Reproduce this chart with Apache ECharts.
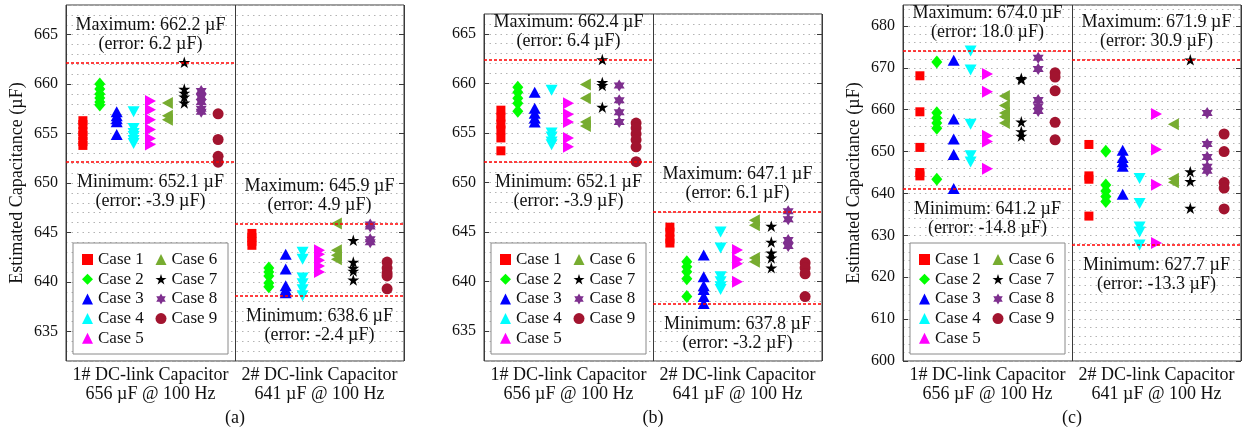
<!DOCTYPE html>
<html>
<head>
<meta charset="utf-8">
<script src="https://cdn.jsdelivr.net/npm/echarts@6/dist/echarts.min.js"></script>
<style>
html,body{margin:0;padding:0;background:#fff;}
#chart{width:1252px;height:434px;}
</style>
</head>
<body>
<div id="chart"></div>
<script>
const caseNames = ['Case 1','Case 2','Case 3','Case 4','Case 5','Case 6','Case 7','Case 8','Case 9'];
const capLabels = ['1# DC-link Capacitor','2# DC-link Capacitor'];
const nominalUF = [656, 641];
const panelLabels = ['(a)','(b)','(c)'];
const yTicksAB = [635, 640, 645, 650, 655, 660, 665];
const yTicksC = [600, 610, 620, 630, 640, 650, 660, 670, 680];
const yRangeA = [632, 668];
const yRangeB = [632, 667];
const yRangeC = [600, 685];

// Panel (a)
const aCap1 = [
  [656.3, 655.9, 655.2, 654.8, 654.2, 653.8],
  [660.0, 659.5, 659.0, 658.6, 658.2, 657.9],
  [657.2, 656.8, 656.5, 656.2, 654.9],
  [657.2, 655.5, 655.0, 654.7, 654.3, 654.0],
  [658.3, 657.4, 656.4, 655.4, 654.5, 653.9],
  [658.1, 656.8, 656.4],
  [662.2, 659.5, 659.1, 658.7, 658.1],
  [659.3, 658.7, 658.2, 657.5, 657.2],
  [657.0, 654.4, 652.7, 652.1]
];
const aCap2 = [
  [644.9, 644.5, 644.1, 643.7],
  [641.4, 641.0, 640.6, 639.9, 639.5],
  [642.8, 641.3, 639.6, 639.2, 638.9],
  [643.0, 642.3, 640.4, 639.8, 639.2, 638.6],
  [643.2, 642.8, 642.2, 641.6, 641.0],
  [645.9, 643.2, 642.7, 642.3],
  [644.2, 642.0, 641.4, 641.1, 640.2],
  [645.8, 645.6, 644.3, 644.0],
  [642.0, 641.4, 640.9, 640.6, 639.3]
];
// Panel (b)
const bCap1 = [
  [657.3, 656.6, 655.9, 655.3, 654.5, 653.2],
  [659.6, 659.1, 658.5, 658.0, 657.2],
  [659.1, 657.5, 657.0, 656.5, 656.1],
  [659.3, 655.0, 654.6, 654.1, 653.8],
  [658.0, 656.9, 656.1, 654.5, 653.6],
  [659.9, 658.5, 656.1, 655.7],
  [662.4, 660.1, 659.8, 657.6],
  [659.8, 658.3, 657.1, 656.1],
  [656.0, 655.5, 654.9, 654.3, 653.6, 652.1]
];
const bCap2 = [
  [645.5, 645.0, 644.3, 643.9],
  [642.0, 641.5, 641.0, 640.3, 638.5],
  [642.7, 640.5, 639.6, 639.2, 638.5, 637.8],
  [645.0, 643.4, 640.5, 640.0, 639.5, 639.2],
  [643.2, 642.2, 641.8, 640.0],
  [646.2, 645.7, 642.4, 642.0],
  [645.6, 644.0, 642.9, 642.4, 641.4],
  [647.1, 646.3, 644.2, 643.6],
  [641.9, 641.4, 640.8, 638.5]
];
// Panel (c)
const cCap1 = [
  [668.1, 659.5, 651.0, 645.0, 644.2],
  [671.4, 659.3, 658.0, 656.8, 655.6, 643.4],
  [671.8, 657.8, 653.0, 649.3, 641.2],
  [674.0, 669.5, 656.5, 649.0, 647.5],
  [668.5, 664.3, 653.8, 652.4, 645.9],
  [663.3, 661.0, 659.2, 658.3, 656.8],
  [667.5, 667.2, 657.1, 654.8, 653.7],
  [672.4, 669.7, 662.3, 660.8, 659.7],
  [668.8, 667.8, 664.5, 657.0, 652.8]
];
const cCap2 = [
  [651.7, 644.2, 643.4, 634.6],
  [650.1, 642.0, 640.6, 639.3, 638.1],
  [650.3, 648.6, 647.6, 646.5, 639.8],
  [643.6, 637.6, 632.0, 630.8, 627.7],
  [659.0, 650.5, 642.1, 628.2],
  [656.5, 643.5, 642.7],
  [671.9, 645.2, 642.9, 636.5],
  [659.2, 651.8, 648.7, 646.4, 645.4],
  [654.2, 650.0, 642.6, 641.3, 636.3]
];

// ---- styling / layout ----
const FONT = "'Liberation Serif','Times New Roman',serif";
const STAR = 'path://M50,0L61.23,34.55L97.55,34.55L68.17,55.9L79.39,90.45L50,69.1L20.61,90.45L31.83,55.9L2.45,34.55L38.77,34.55Z';
const HEXA = 'path://M50,0L64.43,25L93.3,25L78.87,50L93.3,75L64.43,75L50,100L35.57,75L6.7,75L21.13,50L6.7,25L35.57,25Z';
const caseStyle = [
  {symbol:'rect', size:[9,9], rot:0, color:'#ff0000'},
  {symbol:'diamond', size:[11,13], rot:0, color:'#00ff00'},
  {symbol:'triangle', size:[12,11], rot:0, color:'#0000ff'},
  {symbol:'triangle', size:[12,11], rot:180, color:'#00ffff'},
  {symbol:'triangle', size:[12,11], rot:-90, color:'#ff00ff'},
  {symbol:'triangle', size:[12,11], rot:90, color:'#77ac30'},
  {symbol:STAR, size:[12,11.5], rot:0, color:'#000000'},
  {symbol:HEXA, size:[11,12], rot:0, color:'#7e2f8e'},
  {symbol:'circle', size:[11,11], rot:0, color:'#a2142f'}
];
const panels = [
  {cap:[aCap1,aCap2], range:yRangeA, ticks:yTicksAB, step:1, left:66, top:5, width:338, bottom:361, yName:true},
  {cap:[bCap1,bCap2], range:yRangeB, ticks:yTicksAB, step:1, left:484, top:14, width:338, bottom:361, yName:false},
  {cap:[cCap1,cCap2], range:yRangeC, ticks:yTicksC, step:2, left:903, top:5, width:338, bottom:361, yName:true}
];
const FRAME = '#3a3a3a';

const grids = [], xAxes = [], yAxes = [], series = [], legends = [], graphics = [];

panels.forEach((p, i) => {
  grids.push({left:p.left, top:p.top, width:p.width, height:p.bottom - p.top,
    show:true, borderColor:FRAME, borderWidth:1, backgroundColor:'transparent'});
  xAxes.push({gridIndex:i, type:'value', min:0, max:2, interval:1,
    axisLine:{show:false}, axisTick:{show:false},
    splitLine:{show:true, lineStyle:{color:FRAME, width:1}},
    axisLabel:{customValues:[0.5,1.5], margin:5, color:'#111', fontFamily:FONT, fontSize:18, lineHeight:19,
      formatter:(v)=>{const k = v < 1 ? 0 : 1; return capLabels[k] + '\n' + nominalUF[k] + ' µF @ 100 Hz';}}
  });
  yAxes.push({gridIndex:i, type:'value', min:p.range[0], max:p.range[1], position:'left',
    axisLine:{show:false},
    axisTick:{show:true, inside:true, length:5, customValues:p.ticks, lineStyle:{color:FRAME}},
    axisLabel:{customValues:p.ticks, margin:8, color:'#111', fontFamily:FONT, fontSize:16},
    splitLine:{show:false},
    name: p.yName ? 'Estimated Capacitance (µF)' : '', nameLocation:'middle', nameGap:40, nameRotate:90,
    nameTextStyle:{fontFamily:FONT, fontSize:18, color:'#111'}
  });
  yAxes.push({gridIndex:i, type:'value', min:p.range[0], max:p.range[1], position:'right',
    axisLine:{show:false},
    axisTick:{show:true, inside:true, length:5, customValues:p.ticks, lineStyle:{color:FRAME}},
    axisLabel:{show:false}, splitLine:{show:false}
  });
  yAxes.push({gridIndex:i, type:'value', min:p.range[0], max:p.range[1], interval:p.step, position:'left',
    axisLine:{show:false}, axisTick:{show:false}, axisLabel:{show:false},
    splitLine:{show:true, lineStyle:{color:'#b4b4b4', width:1, type:[1.5,4]}}
  });
  const yi = 3 * i;
  caseNames.forEach((name, c) => {
    const st = caseStyle[c];
    const xo = 0.1 * (c + 1);
    const data = p.cap[0][c].map(v => [xo, v]).concat(p.cap[1][c].map(v => [1 + xo, v]));
    series.push({type:'scatter', name, xAxisIndex:i, yAxisIndex:yi, data,
      symbol:st.symbol, symbolSize:st.size, symbolRotate:st.rot,
      itemStyle:{color:st.color, opacity:1}, z:3, silent:true});
  });
  // limit lines
  const mlData = [];
  [0,1].forEach(k => {
    const all = [].concat(...p.cap[k]);
    const mx = Math.max(...all), mn = Math.min(...all);
    const lbl = (t, v, pos, d) => ({show:true, position:pos, distance:d,
      formatter: t + ': ' + v.toFixed(1) + ' µF\n(error: ' + (v - nominalUF[k]).toFixed(1) + ' µF)',
      color:'#111', fontFamily:FONT, fontSize:18, lineHeight:19, align:'center'});
    mlData.push([{coord:[k, mx], label:lbl('Maximum', mx, 'insideMiddleTop', 9)}, {coord:[k + 1, mx]}]);
    mlData.push([{coord:[k, mn], label:lbl('Minimum', mn, 'insideMiddleBottom', 11)}, {coord:[k + 1, mn]}]);
  });
  series.push({type:'scatter', name:'limits' + i, xAxisIndex:i, yAxisIndex:yi, data:[],
    markLine:{silent:true, symbol:'none', animation:false,
      lineStyle:{color:'#ff0000', type:[3,2], width:1.5}, data:mlData}});
  // legends
  const lgBase = {orient:'vertical', top:251, itemGap:2.7, itemWidth:11, itemHeight:11, padding:0,
    selectedMode:false, textStyle:{fontFamily:FONT, fontSize:17, lineHeight:17, color:'#111'}};
  legends.push(Object.assign({}, lgBase, {left:p.left + 16, data:caseNames.slice(0,5)}));
  legends.push(Object.assign({}, lgBase, {left:p.left + 89.5, data:caseNames.slice(5)}));
  graphics.push({type:'rect', z:1, shape:{x:p.left + 7, y:243, width:155, height:111},
    style:{fill:'#ffffff', stroke:'#8a8a8a', lineWidth:1}});
  graphics.push({type:'text', x:p.left + p.width / 2, y:418,
    style:{text:panelLabels[i], fontFamily:FONT, fontSize:18, fill:'#111', align:'center', verticalAlign:'middle'}});
});

const chart = echarts.init(document.getElementById('chart'), null, {renderer:'canvas'});
chart.setOption({
  animation:false,
  grid:grids, xAxis:xAxes, yAxis:yAxes, series, legend:legends, graphic:graphics
});
</script>
</body>
</html>
